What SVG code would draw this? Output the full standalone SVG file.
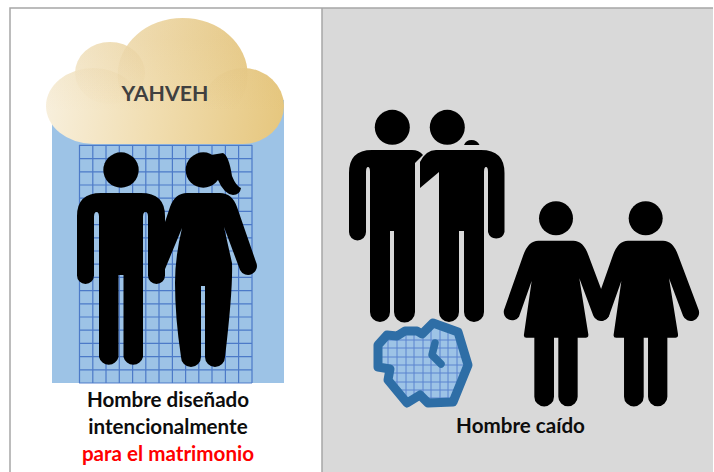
<svg xmlns="http://www.w3.org/2000/svg" width="714" height="472" viewBox="0 0 714 472">
<style>
.lbl{font-family:"Lato","Liberation Sans",sans-serif;font-weight:700;font-size:20.600px;text-anchor:middle;fill:#0d0d0d}
.fig{fill:#000}
.grid{fill:none;stroke:#4472c4;stroke-width:1.2;stroke-opacity:.9}
.edge{fill:none;stroke:#a6a6a6;stroke-width:1.5}
.ring{fill:none;stroke:#2e6ea6;stroke-width:9;stroke-linejoin:round}
.hand{fill:none;stroke:#2e6ea6;stroke-width:7.5;stroke-linecap:round;stroke-linejoin:round}
.lobe{fill:url(#gold)}
.tint{fill:url(#shade)}
</style>
<defs>
<linearGradient id="gold" gradientUnits="userSpaceOnUse" x1="46" y1="70" x2="284" y2="100">
<stop offset="0" stop-color="#f8f0de"/><stop offset=".45" stop-color="#f1deb2"/><stop offset="1" stop-color="#e6c77f"/>
</linearGradient>
<linearGradient id="shade" gradientUnits="userSpaceOnUse" x1="0" y1="40" x2="0" y2="112">
<stop offset="0" stop-color="#c79a45" stop-opacity=".1"/><stop offset="1" stop-color="#c79a45" stop-opacity="0"/>
</linearGradient>
<path id="man" d="M-20 23Q-44 23 -44 46V105.500A8.500 8.500 0 0 0 -27 105.500V47Q-27 42 -24.500 42Q-22 42 -22 47V187A10 10 0 0 0 -2.500 187V105H2.500V187A10 10 0 0 0 22 187V47Q22 42 24.500 42Q27 42 27 47V105.500A8.500 8.500 0 0 0 44 105.500V46Q44 23 20 23Z"/>
<path id="woman" d="M130 137H235Q265 137 280 180L342 345A25 25 0 0 1 295 362L253 250L280 418Q281 428 272 428H248V605A29 29 0 0 1 190 605V428H177V605A29 29 0 0 1 118 605V428H94Q85 428 87 418L110 258L72 365A25 25 0 0 1 27 345L85 180Q100 137 130 137Z"/>
<clipPath id="blob"><path d="M378 345L387 335L397 336L405 331L417 331L422 334L433 323L458 332L468 365L453 402L428 403L420 395L407 403L388 380L390 369L378 367Z"/></clipPath>
</defs>

<g id="panels">
<rect x="322" y="8" width="391" height="464" fill="#d9d9d9"/>
<path class="edge" d="M10 472V8H713M322 8V472"/>
</g>

<g id="divine-design">
<rect x="52" y="100" width="232" height="283" fill="#9dc3e6"/>
<path class="grid" d="M79.500 145V383M92.800 145V383M106 145V383M119.300 145V383M132.600 145V383M145.800 145V383M159 145V383M172.400 145V383M185.600 145V383M198.800 145V383M212 145V383M225.400 145V383M238.600 145V383M252 145V383M79 383H252M79 369.800H252M79 356.600H252M79 343.400H252M79 330.200H252M79 317H252M79 303.800H252M79 290.600H252M79 277.400H252M79 264.200H252M79 251H252M79 237.800H252M79 224.600H252M79 211.400H252M79 198.200H252M79 185H252M79 171.800H252M79 158.600H252M79 145.400H252"/>
</g>

<g id="cloud">
<ellipse class="lobe" cx="110" cy="73" rx="35" ry="31"/>
<ellipse class="lobe" cx="182.700" cy="75" rx="65" ry="57"/>
<ellipse class="lobe" cx="93.300" cy="106" rx="47.300" ry="38"/>
<ellipse class="lobe" cx="243.300" cy="106" rx="40.700" ry="38"/>
<rect class="lobe" x="93" y="90" width="150" height="54"/>
<ellipse class="tint" cx="110" cy="73" rx="35" ry="31"/>
<ellipse class="tint" cx="182.700" cy="75" rx="65" ry="57"/>
<ellipse class="tint" cx="93.300" cy="106" rx="47.300" ry="38"/>
<ellipse class="tint" cx="243.300" cy="106" rx="40.700" ry="38"/>
<text x="165" y="101" style="font-family:Lato,'Liberation Sans',sans-serif;font-weight:700;font-size:21.300px;text-anchor:middle;fill:#404040">YAHVEH</text>
</g>

<g id="man-designed" class="fig">
<circle cx="121" cy="170" r="17.700"/>
<use href="#man" transform="translate(121 170)"/>
</g>

<g id="woman-designed" class="fig">
<circle cx="203.300" cy="170" r="17.700"/>
<path d="M211 155L223 153Q229 156 232 176Q236 186 241 188Q240 195 233 195Q224 194 218 180Z"/>
<path d="M164 225L170 207Q175 193 187 193H220Q232 193 237 207L256 262A8.300 8.300 0 0 1 240 270L224 227L232 263Q233 290 225 357A10 10 0 0 1 205 357V286H201V357A10 10 0 0 1 181 357Q175 317 175 283Q175 257 182 228L163 274Q158 284 150 280Z"/>
</g>

<g id="man-fallen-1" class="fig">
<circle cx="392.300" cy="127.300" r="17.500"/>
<path d="M372 150Q349 150 349 173V232A8.500 8.500 0 0 0 366 232V172Q366 167 368 167Q370 167 370 172V312A10 10 0 0 0 390 312V231H394V312A10 10 0 0 0 415 312V163L423 155Q419 150 412 150Z"/>
</g>

<g id="man-fallen-2" class="fig">
<circle cx="447.300" cy="127.300" r="17.500"/>
<path d="M464 145Q466 140 471.500 140Q477 140 479.500 145Z"/>
<path d="M436 150Q426 150 420 162V188L439 172V312A10 10 0 0 0 459 312V231H464V312A10 10 0 0 0 484 312V172Q484 167 486 167Q488 167 488 172V232A8.500 8.500 0 0 0 504.500 232V173Q504.500 150 481 150Z"/>
</g>

<g id="woman-fallen-1" class="fig">
<circle cx="556" cy="218.300" r="17"/>
<use href="#woman" transform="translate(495 195) scale(.3333)"/>
</g>

<g id="woman-fallen-2" class="fig">
<circle cx="645.700" cy="218.300" r="17"/>
<use href="#woman" transform="translate(584.700 195) scale(.3333)"/>
</g>

<g id="clock">
<path fill="#9dc3e6" d="M378 345L387 335L397 336L405 331L417 331L422 334L433 323L458 332L468 365L453 402L428 403L420 395L407 403L388 380L390 369L378 367Z"/>
<path clip-path="url(#blob)" fill="none" stroke="#5a84cf" stroke-width="1" d="M388 320V410M397 320V410M406 320V410M414 320V410M423 320V410M431 320V410M440 320V410M448 320V410M457 320V410M370 340H475M370 348H475M370 357H475M370 365H475M370 373H475M370 382H475M370 390H475M370 398H475"/>
<path class="ring" d="M378 345L387 335L397 336L405 331L417 331L422 334L433 323L458 332L468 365L453 402L428 403L420 395L407 403L388 380L390 369L378 367Z"/>
<path class="hand" d="M435 343L432 355L441 364"/>
</g>

<g id="labels">
<text class="lbl" x="168" y="406.500">Hombre diseñado</text>
<text class="lbl" x="168" y="434">intencionalmente</text>
<text class="lbl" x="168" y="461" style="fill:#ff0000">para el matrimonio</text>
<text class="lbl" x="520.500" y="433">Hombre caído</text>
</g>
</svg>
